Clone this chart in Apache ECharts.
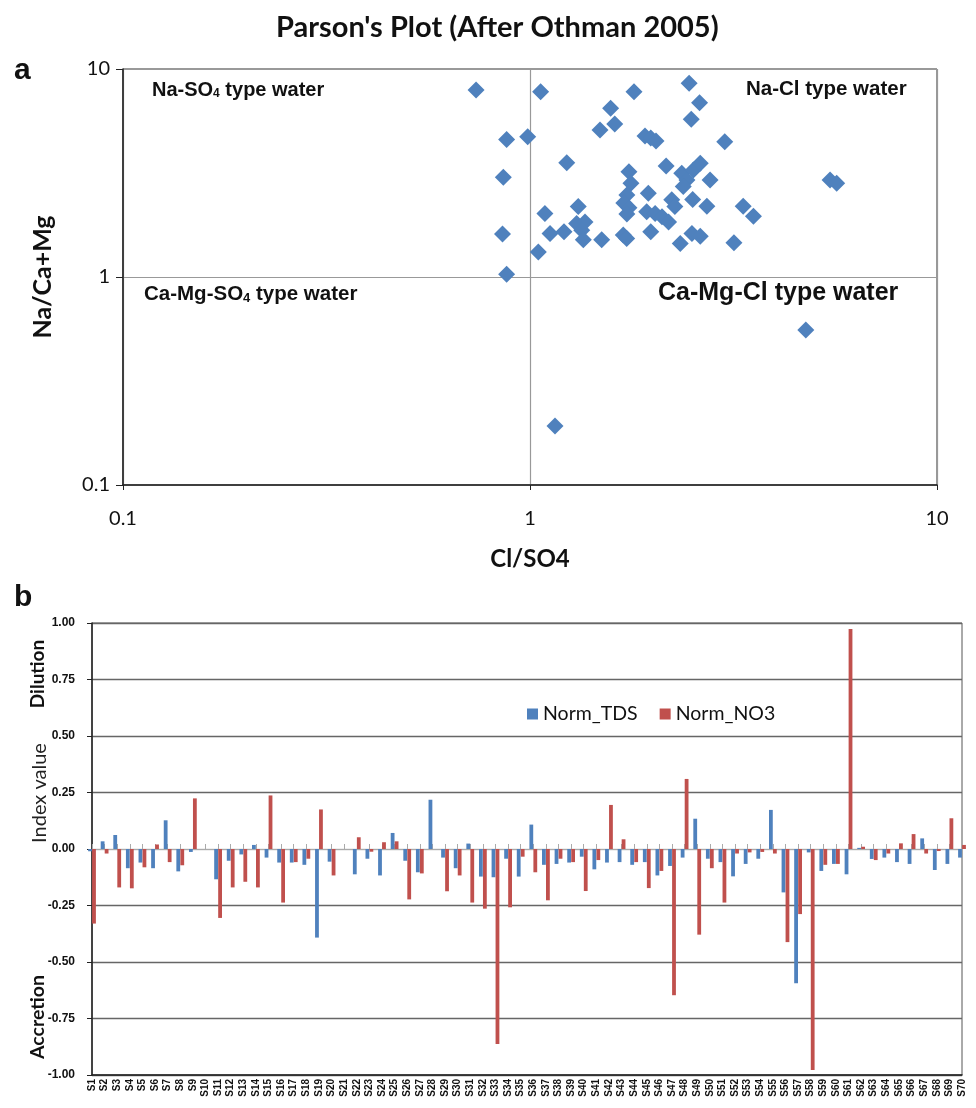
<!DOCTYPE html>
<html>
<head>
<meta charset="utf-8">
<script src="https://cdn.jsdelivr.net/npm/echarts@6/dist/echarts.min.js"></script>
<style>html,body{margin:0;padding:0;background:#fff}#c{width:976px;height:1108px}</style>
</head>
<body>
<div id="c"></div>
<script>
// ---- Panel a: Parson's plot data ----
const clSo4 = [0.737,0.876,0.860,0.856,0.876,0.987,1.062,1.048,1.088,1.12,1.212,1.231,1.314,1.302,1.365,1.34,1.352,1.50,1.486,1.578,1.615,1.801,1.695,1.728,1.75,1.77,1.73,1.70,1.75,1.73,1.917,1.98,2.04,1.953,1.935,2.03,2.11,2.19,1.98,2.23,2.27,2.16,2.34,2.46,2.61,2.49,2.36,2.43,2.38,2.52,2.62,2.77,2.51,2.72,2.50,2.62,3.01,3.17,3.34,3.54,5.46,5.67,4.76,1.152];
const naCaMg = [7.93,4.58,3.02,1.61,1.03,4.73,7.78,1.32,2.02,1.62,1.65,3.54,2.18,1.81,1.84,1.68,1.51,1.51,5.09,6.47,5.44,7.78,1.59,1.53,3.21,2.82,2.48,2.27,2.15,2.01,4.76,4.66,4.51,2.53,2.06,2.02,1.95,1.84,1.65,2.35,2.18,3.42,1.45,8.54,6.89,5.73,3.15,2.93,2.72,3.27,3.52,2.93,2.36,2.19,1.62,1.57,4.47,1.46,2.19,1.96,2.93,2.82,0.556,0.192];
const logTicks = [0.1, 1, 10];

// ---- Panel b: index values ----
const samples = ['S1','S2','S3','S4','S5','S6','S7','S8','S9','S10','S11','S12','S13','S14','S15','S16','S17','S18','S19','S20','S21','S22','S23','S24','S25','S26','S27','S28','S29','S30','S31','S32','S33','S34','S35','S36','S37','S38','S39','S40','S41','S42','S43','S44','S45','S46','S47','S48','S49','S50','S51','S52','S53','S54','S55','S56','S57','S58','S59','S60','S61','S62','S63','S64','S65','S66','S67','S68','S69','S70'];
const normTDS = [-0.01,0.034,0.062,-0.085,-0.06,-0.085,0.127,-0.099,-0.013,0,-0.134,-0.052,-0.024,0.018,-0.038,-0.06,-0.06,-0.07,-0.392,-0.056,0,-0.112,-0.043,-0.117,0.071,-0.052,-0.103,0.218,-0.038,-0.085,0.024,-0.122,-0.125,-0.043,-0.122,0.108,-0.07,-0.066,-0.06,-0.034,-0.09,-0.06,-0.058,-0.07,-0.058,-0.117,-0.075,-0.038,0.134,-0.043,-0.058,-0.121,-0.066,-0.043,0.173,-0.192,-0.594,-0.015,-0.097,-0.066,-0.112,0.005,-0.044,-0.038,-0.058,-0.066,0.047,-0.093,-0.066,-0.038];
const normNO3 = [-0.33,-0.02,-0.17,-0.174,-0.081,0.02,-0.058,-0.072,0.224,0,-0.305,-0.17,-0.145,-0.17,0.237,-0.237,-0.058,-0.043,0.175,-0.117,0,0.052,-0.012,0.03,0.034,-0.223,-0.108,0,-0.187,-0.117,-0.237,-0.264,-0.863,-0.258,-0.034,-0.103,-0.227,-0.043,-0.058,-0.186,-0.049,0.195,0.043,-0.058,-0.173,-0.097,-0.647,0.31,-0.379,-0.085,-0.237,-0.02,-0.015,-0.013,-0.02,-0.412,-0.288,-0.978,-0.07,-0.066,0.973,0.01,-0.049,-0.02,0.025,0.066,-0.02,-0.009,0.136,0.018];
const indexTicks = [-1, -0.75, -0.5, -0.25, 0, 0.25, 0.5, 0.75, 1];

const BLUE = '#4F81BD', RED = '#C0504D';
const F = 'Lato, "Open Sans", sans-serif';
const A = '"Liberation Sans", Arial, sans-serif';

const scatterData = clSo4.map((x, i) => [x, naCaMg[i]]);

const chart = echarts.init(document.getElementById('c'), null, {renderer: 'canvas'});

const subRich = (size) => ({
  b: {fontSize: size, fontWeight: 'bold', fontFamily: A, fill: '#111', verticalAlign: 'bottom', lineHeight: size + 4},
  s: {fontSize: Math.round(size * 0.62), fontWeight: 'bold', fontFamily: A, fill: '#111', verticalAlign: 'bottom', lineHeight: size + 1}
});

chart.setOption({
  animation: false,
  backgroundColor: '#fff',
  title: {
    text: "Parson's Plot (After Othman 2005)",
    left: 271, top: 8,
    textStyle: {fontSize: 29, fontWeight: 'bold', fontFamily: F, color: '#111'}
  },
  legend: {
    data: ['Norm_TDS', 'Norm_NO3'],
    left: 522, top: 699,
    icon: 'rect', itemWidth: 11, itemHeight: 11, itemGap: 22,
    textStyle: {fontSize: 19.5, fontFamily: F, color: '#111'}
  },
  grid: [
    {left: 123, top: 69, width: 814, height: 416, show: true, borderColor: '#333', borderWidth: 1, containLabel: false},
    {left: 92, top: 623, width: 870, height: 452, show: true, borderColor: '#555', borderWidth: 1, containLabel: false}
  ],
  xAxis: [
    {
      gridIndex: 0, type: 'log', logBase: 10, min: 0.1, max: 10,
      name: 'Cl/SO4', nameLocation: 'middle', nameGap: 62,
      nameTextStyle: {fontSize: 24, fontWeight: 'bold', fontFamily: F, color: '#111'},
      axisLine: {show: true, lineStyle: {color: '#222', width: 1.5}},
      axisTick: {show: true, length: 5, lineStyle: {color: '#222'}},
      minorTick: {show: false},
      splitLine: {show: true, lineStyle: {color: '#999', width: 1.2}},
      axisLabel: {fontSize: 20, fontFamily: F, color: '#111', margin: 24,
        formatter: v => (logTicks.indexOf(+v) >= 0 ? String(+v) : '')}
    },
    {
      gridIndex: 1, type: 'category', data: samples, boundaryGap: false,
      axisLine: {onZero: false, lineStyle: {color: '#222', width: 1.5}},
      axisTick: {show: false},
      splitLine: {show: false},
      axisLabel: {interval: 0, rotate: 90, fontSize: 10, fontWeight: 'bold', fontFamily: A, color: '#111', margin: 4}
    },
    {
      gridIndex: 1, type: 'category', data: samples, boundaryGap: false, position: 'top',
      axisLine: {show: true, onZero: true, lineStyle: {color: '#aaa', width: 1.2}},
      axisTick: {show: true, interval: 0, length: 5, lineStyle: {color: '#aaa'}},
      axisLabel: {show: false},
      splitLine: {show: false}
    }
  ],
  yAxis: [
    {
      gridIndex: 0, type: 'log', logBase: 10, min: 0.1, max: 10,
      name: 'Na/Ca+Mg', nameLocation: 'middle', nameGap: 68,
      nameTextStyle: {fontSize: 25, fontWeight: 'bold', fontFamily: F, color: '#111'},
      axisLine: {show: true, lineStyle: {color: '#222', width: 1.5}},
      axisTick: {show: true, length: 7, lineStyle: {color: '#222'}},
      minorTick: {show: false},
      splitLine: {show: true, lineStyle: {color: '#999', width: 1.2}},
      axisLabel: {fontSize: 20, fontFamily: F, color: '#111', margin: 13,
        formatter: v => (logTicks.indexOf(+v) >= 0 ? String(+v) : '')}
    },
    {
      gridIndex: 1, type: 'value', min: -1, max: 1, interval: 0.25,
      axisLine: {show: true, lineStyle: {color: '#222', width: 1.5}},
      axisTick: {show: true, length: 5, lineStyle: {color: '#222'}},
      splitLine: {show: true, lineStyle: {color: ['#666','#666','#666','#666','#bbb','#666','#666','#666','#666'], width: 1.3}},
      axisLabel: {fontSize: 12, fontWeight: 'bold', fontFamily: A, color: '#111', margin: 17,
        formatter: v => (indexTicks.indexOf(+v) >= 0 ? (+v).toFixed(2) : '')}
    }
  ],
  series: [
    {
      name: 'Parson', type: 'scatter', xAxisIndex: 0, yAxisIndex: 0,
      data: scatterData, symbol: 'diamond', symbolSize: [17, 17],
      itemStyle: {color: BLUE, opacity: 1}
    },
    {
      name: 'Norm_TDS', type: 'bar', xAxisIndex: 1, yAxisIndex: 1,
      data: normTDS, barWidth: 3.8, barGap: '5%', itemStyle: {color: BLUE}
    },
    {
      name: 'Norm_NO3', type: 'bar', xAxisIndex: 1, yAxisIndex: 1,
      data: normNO3, barWidth: 3.8, barGap: '5%', itemStyle: {color: RED}
    }
  ],
  graphic: [
    {type: 'text', left: 14, top: 56, style: {text: 'a', font: 'bold 30px ' + A, fill: '#111'}},
    {type: 'text', left: 14, top: 583, style: {text: 'b', font: 'bold 30px ' + A, fill: '#111'}},
    {type: 'text', left: 152, top: 80, style: {text: '{b|Na-SO}{s|4}{b| type water}', fill: '#111', rich: subRich(20)}},
    {type: 'text', left: 746, top: 79, style: {text: 'Na-Cl type water', font: 'bold 20.5px ' + A, fill: '#111'}},
    {type: 'text', left: 144, top: 284, style: {text: '{b|Ca-Mg-SO}{s|4}{b| type water}', fill: '#111', rich: subRich(20.5)}},
    {type: 'text', left: 658, top: 281, style: {text: 'Ca-Mg-Cl type water', font: 'bold 25px ' + A, fill: '#111'}},
    {type: 'text', x: 38, y: 674, rotation: Math.PI / 2, style: {text: 'Dilution', font: 'bold 19px ' + F, fill: '#111', align: 'center', verticalAlign: 'middle', textAlign: 'center', textVerticalAlign: 'middle'}},
    {type: 'text', x: 40, y: 793, rotation: Math.PI / 2, style: {text: 'Index value', font: '20px ' + F, fill: '#222', align: 'center', verticalAlign: 'middle', textAlign: 'center', textVerticalAlign: 'middle'}},
    {type: 'text', x: 38, y: 1017, rotation: Math.PI / 2, style: {text: 'Accretion', font: 'bold 19.5px ' + F, fill: '#111', align: 'center', verticalAlign: 'middle', textAlign: 'center', textVerticalAlign: 'middle'}}
  ]
});
</script>
</body>
</html>
